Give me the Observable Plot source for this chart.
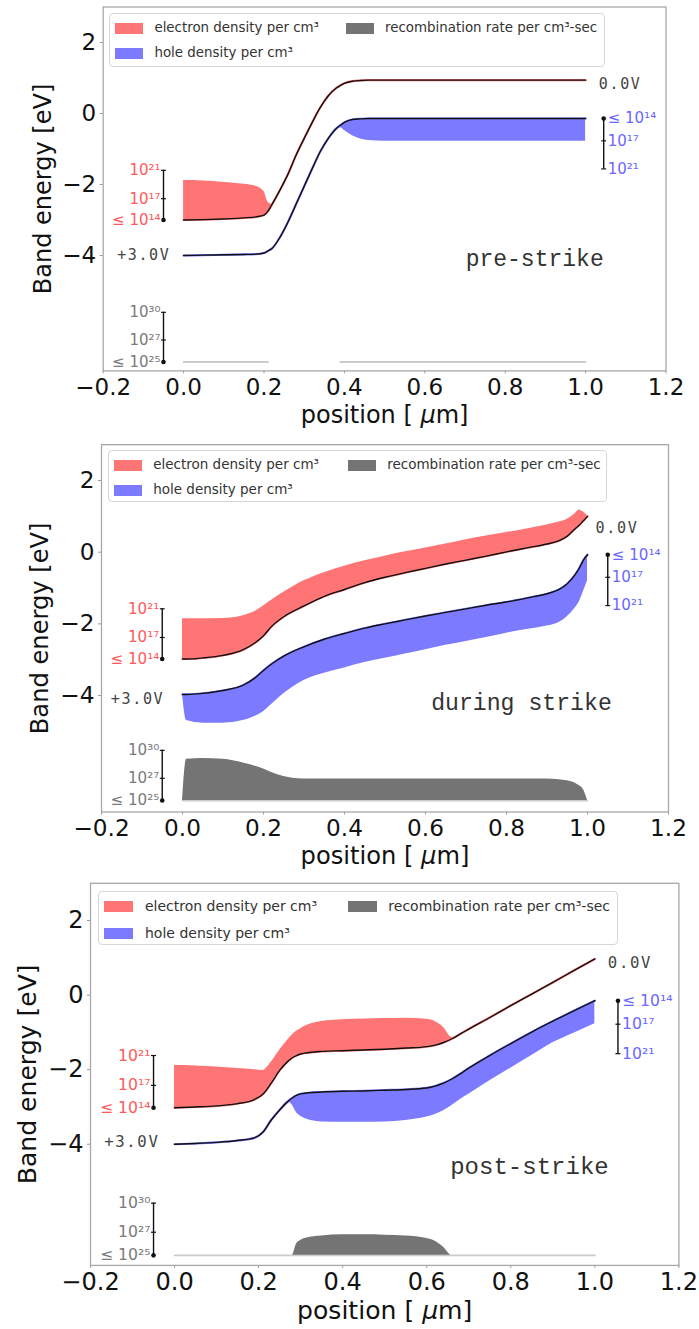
<!DOCTYPE html>
<html>
<head>
<meta charset="utf-8">
<script src="https://cdn.jsdelivr.net/npm/d3@7"></script>
<script src="https://cdn.jsdelivr.net/npm/@observablehq/plot@0.6"></script>
<style>
body{margin:0;background:#fff;}
#root{position:relative;width:699px;height:1329px;overflow:hidden;background:#fff;font-family:"DejaVu Sans",sans-serif;}
.panel{position:absolute;left:0;width:699px;}
.panel svg{position:absolute;left:0;top:0;overflow:visible;}
.legend{position:absolute;border:1px solid #d6d6d6;border-radius:4px;background:rgba(255,255,255,0.85);box-sizing:border-box;}
.legend .item{position:absolute;white-space:nowrap;color:#333;line-height:1;}
.legend .patch{position:absolute;}
svg g[font-family="DejaVu Sans Mono"]{letter-spacing:1.6px;}
</style>
</head>
<body>
<div id="root"></div>
<script>
// ---------- shared tick / label data ----------
const xTicks = [-0.2, 0.0, 0.2, 0.4, 0.6, 0.8, 1.0, 1.2];
const yTicks = [-4, -2, 0, 2];
const legendLabels = ["electron density per cm³", "recombination rate per cm³-sec", "hole density per cm³"];
const elecLabels = ["≤ 10¹⁴", "10¹⁷", "10²¹"];
const elecOffsets = [0, 0.6, 1.4];
const holeLabels = ["≤ 10¹⁴", "10¹⁷", "10²¹"];
const holeOffsets = [0, -0.63, -1.42];
const recLabels = ["≤ 10²⁵", "10²⁷", "10³⁰"];
const recOffsets = [0, 0.62, 1.4];
const panelTitles = ["pre-strike", "during strike", "post-strike"];

// ---------- pre-strike ----------
const preX = [0, 0.05, 0.1, 0.15, 0.18, 0.2, 0.21, 0.22, 0.24, 0.26, 0.28, 0.3, 0.32, 0.34, 0.36, 0.38, 0.39, 0.4, 0.42, 0.44, 0.46, 0.5, 0.6, 0.7, 0.8, 0.9, 1.0];
const preCB = [-3.00, -2.99, -2.97, -2.94, -2.91, -2.86, -2.75, -2.56, -2.15, -1.70, -1.17, -0.70, -0.25, 0.17, 0.50, 0.72, 0.79, 0.85, 0.91, 0.93, 0.94, 0.94, 0.94, 0.94, 0.94, 0.94, 0.94];
const preVB = [-4.00, -3.99, -3.98, -3.97, -3.96, -3.93, -3.87, -3.80, -3.48, -3.05, -2.55, -2.05, -1.55, -1.07, -0.70, -0.42, -0.33, -0.25, -0.17, -0.15, -0.14, -0.14, -0.14, -0.14, -0.14, -0.14, -0.14];
const preElecTop = [-1.89, -1.90, -1.94, -1.99, -2.05, -2.20, -2.50, -2.56, -2.15, -1.70, -1.17, -0.70, -0.25, 0.17, 0.50, 0.72, 0.79, 0.85, 0.91, 0.93, 0.94, 0.94, 0.94, 0.94, 0.94, 0.94, 0.94];
const preHoleBot = [-4.00, -3.99, -3.98, -3.97, -3.96, -3.93, -3.87, -3.80, -3.48, -3.05, -2.55, -2.05, -1.55, -1.07, -0.70, -0.42, -0.40, -0.48, -0.63, -0.72, -0.76, -0.78, -0.78, -0.78, -0.78, -0.78, -0.78];
const preRec = [-7.0, -7.0, -7.0, -7.0, -7.0, -7.0, -7.0, null, null, null, null, null, null, null, null, null, -7.0, -7.0, -7.0, -7.0, -7.0, -7.0, -7.0, -7.0, -7.0, -7.0, -7.0];
const preRecBase = -7.0;

// ---------- during strike ----------
const durX = [0, 0.01, 0.05, 0.1, 0.15, 0.18, 0.2, 0.22, 0.25, 0.3, 0.35, 0.4, 0.45, 0.5, 0.55, 0.6, 0.65, 0.7, 0.75, 0.8, 0.85, 0.9, 0.93, 0.95, 0.97, 0.98, 0.99, 1.0];
const durCB = [-2.98, -2.98, -2.95, -2.88, -2.72, -2.52, -2.33, -2.07, -1.80, -1.50, -1.23, -1.04, -0.85, -0.70, -0.57, -0.45, -0.33, -0.22, -0.11, 0.01, 0.12, 0.23, 0.32, 0.45, 0.66, 0.76, 0.88, 1.00];
const durElecTop = [-1.86, -1.86, -1.86, -1.85, -1.77, -1.65, -1.50, -1.34, -1.12, -0.80, -0.57, -0.39, -0.24, -0.11, 0.01, 0.12, 0.23, 0.35, 0.45, 0.55, 0.65, 0.76, 0.84, 0.92, 1.08, 1.18, 1.12, 1.02];
const durVB = [-3.97, -3.97, -3.94, -3.86, -3.71, -3.50, -3.30, -3.12, -2.90, -2.64, -2.43, -2.27, -2.12, -2.00, -1.89, -1.78, -1.68, -1.58, -1.48, -1.39, -1.28, -1.16, -1.04, -0.88, -0.62, -0.44, -0.22, -0.07];
const durHoleBot = [-3.97, -4.70, -4.77, -4.77, -4.70, -4.58, -4.45, -4.25, -3.95, -3.58, -3.38, -3.23, -3.08, -2.96, -2.84, -2.72, -2.60, -2.49, -2.38, -2.26, -2.16, -2.06, -1.96, -1.80, -1.55, -1.38, -1.10, -0.80];
const durRec = [-6.93, -5.78, -5.76, -5.78, -5.88, -5.97, -6.05, -6.15, -6.26, -6.33, -6.33, -6.33, -6.33, -6.33, -6.33, -6.33, -6.33, -6.33, -6.33, -6.33, -6.33, -6.33, -6.35, -6.38, -6.45, -6.52, -6.62, -6.93];
const durRecBase = -6.93;

// ---------- post-strike ----------
const postX = [0, 0.05, 0.1, 0.15, 0.19, 0.21, 0.23, 0.25, 0.27, 0.28, 0.29, 0.3, 0.32, 0.35, 0.4, 0.45, 0.5, 0.55, 0.6, 0.62, 0.64, 0.66, 0.68, 0.7, 0.75, 0.8, 0.85, 0.9, 0.95, 1.0];
const postCB = [-3.02, -3.00, -2.97, -2.91, -2.80, -2.66, -2.36, -2.02, -1.77, -1.68, -1.62, -1.58, -1.54, -1.51, -1.49, -1.47, -1.45, -1.42, -1.38, -1.34, -1.27, -1.17, -1.04, -0.91, -0.60, -0.28, 0.03, 0.34, 0.66, 0.97];
const postElecTop = [-1.89, -1.90, -1.93, -1.97, -2.00, -2.02, -1.80, -1.48, -1.20, -1.07, -0.97, -0.90, -0.79, -0.71, -0.66, -0.64, -0.63, -0.62, -0.65, -0.71, -0.87, -1.14, -1.04, -0.91, -0.60, -0.28, 0.03, 0.34, 0.66, 0.97];
const postVB = [-4.00, -3.98, -3.95, -3.90, -3.83, -3.68, -3.35, -3.08, -2.85, -2.76, -2.69, -2.65, -2.62, -2.60, -2.58, -2.57, -2.55, -2.53, -2.49, -2.44, -2.36, -2.25, -2.11, -1.96, -1.62, -1.30, -0.99, -0.70, -0.42, -0.15];
const postHoleBot = [-4.00, -3.98, -3.95, -3.90, -3.83, -3.68, -3.35, -3.08, -2.85, -2.95, -3.15, -3.25, -3.35, -3.40, -3.41, -3.41, -3.40, -3.36, -3.27, -3.20, -3.10, -2.96, -2.80, -2.66, -2.30, -1.96, -1.62, -1.28, -1.02, -0.77];
const postRec = [-6.98, -6.98, -6.98, -6.98, -6.98, -6.98, -6.98, -6.98, -6.98, -6.98, -6.68, -6.58, -6.50, -6.46, -6.43, -6.43, -6.44, -6.46, -6.53, -6.60, -6.76, -6.98, -6.98, -6.98, -6.98, -6.98, -6.98, -6.98, -6.98, -6.98];
const postRecBase = -6.98;

// ---------- styling ----------
const RED = "#ff7474", BLUE = "#7c7bff", GRAY = "#747474";
const RED_TXT = "#ff5a5a", BLUE_TXT = "#6a68ff", GRAY_TXT = "#7a7a7a";
const curve = "monotone-x";
const fmtX = d => d.toFixed(1).replace("-", "\u2212");
const fmtY = d => String(d).replace("-", "\u2212");

const panels = [
  {X: preX, CB: preCB, VB: preVB, ET: preElecTop, HB: preHoleBot, REC: preRec, base: preRecBase,
   top: 0, height: 428, ml: 102.7, mr: 33.5, mt: 6.5, ph: 363.9, s: 1.0, ylabDx: -60,
   title: panelTitles[0], titlePos: [1.045, -4.08], plusPos: [-0.033, -4.0], zeroPos: [1.033, 0.82], blueBarX: 1.045,
   legend: {left: 109, top: 13, w: 496, h: 54, col2: 236}},
  {X: durX, CB: durCB, VB: durVB, ET: durElecTop, HB: durHoleBot, REC: durRec, base: durRecBase,
   top: 430, height: 436, ml: 101, mr: 31, mt: 14.2, ph: 367.3, s: 1.007, ylabDx: -61,
   title: panelTitles[1], titlePos: [1.06, -4.19], plusPos: [-0.045, -4.09], zeroPos: [1.02, 0.68], blueBarX: 1.05,
   legend: {left: 107.5, top: 450, w: 499, h: 52, col2: 239.5}},
  {X: postX, CB: postCB, VB: postVB, ET: postElecTop, HB: postHoleBot, REC: postRec, base: postRecBase,
   top: 866, height: 460, ml: 90, mr: 20.6, mt: 16.8, ph: 382.1, s: 1.045, ylabDx: -63,
   title: panelTitles[2], titlePos: [1.033, -4.6], plusPos: [-0.036, -3.94], zeroPos: [1.031, 0.87], blueBarX: 1.055,
   legend: {left: 97.6, top: 891, w: 520, h: 54, col2: 249}}
];

function scaleBar(xPos, ticks, color, side, s) {
  const ys = ticks.map(d => d.y);
  const marks = [];
  marks.push(Plot.ruleX([xPos], {x: d => d, y1: () => d3.min(ys), y2: () => d3.max(ys), stroke: "#111", strokeWidth: 1.4}));
  const capRows = ticks.filter(d => !d.dot);
  marks.push(Plot.link(capRows, {x1: () => xPos - 0.006, x2: () => xPos + 0.006, y1: "y", y2: "y", stroke: "#111", strokeWidth: 1.2}));
  marks.push(Plot.dot(ticks.filter(d => d.dot), {x: () => xPos, y: "y", r: 2.3, fill: "#111"}));
  marks.push(Plot.text(ticks, {x: () => xPos, y: "y", text: "label", fill: color, fontSize: 15 * s,
    textAnchor: side === "left" ? "end" : "start", dx: side === "left" ? -3 : 4, fontFamily: "DejaVu Sans"}));
  return marks;
}

function drawPanel(p) {
  const s = p.s;
  const n = p.X.length;
  const rows = p.X.map((x, i) => ({x, cb: p.CB[i], vb: p.VB[i], et: p.ET[i], hb: p.HB[i], rt: p.REC[i]}));
  const eTicks = elecOffsets.map((o, i) => ({y: p.CB[0] + o, label: elecLabels[i], dot: i === 0}));
  const hTicks = holeOffsets.map((o, i) => ({y: p.VB[n - 1] + o, label: holeLabels[i], dot: i === 0}));
  const rTicks = recOffsets.map((o, i) => ({y: p.base + o, label: recLabels[i], dot: i === 0}));

  const svg = Plot.plot({
    width: 699,
    height: p.height,
    marginLeft: p.ml, marginRight: p.mr, marginTop: p.mt, marginBottom: p.height - p.mt - p.ph,
    style: {fontFamily: "DejaVu Sans", color: "#111", background: "transparent", overflow: "visible"},
    x: {domain: [-0.2, 1.2]},
    y: {domain: [-7.25, 3.0]},
    marks: [
      Plot.axisX({ticks: xTicks, tickFormat: fmtX, tickSize: 3, tickPadding: 4.5, fontSize: 23 * s, label: null, stroke: "#999"}),
      Plot.axisY({ticks: yTicks, tickFormat: fmtY, tickSize: 3, tickPadding: 4, fontSize: 23 * s, label: null, stroke: "#999"}),
      // recombination
      Plot.line(rows, {x: "x", y: d => d.rt == null ? NaN : p.base, stroke: "#cccccc", strokeWidth: 1.8}),
      Plot.areaY(rows, {x: "x", y1: d => d.rt == null ? NaN : p.base, y2: d => d.rt == null ? NaN : d.rt, fill: GRAY, curve}),
      // carrier densities
      Plot.areaY(rows, {x: "x", y1: "cb", y2: "et", fill: RED, curve}),
      Plot.areaY(rows, {x: "x", y1: "vb", y2: "hb", fill: BLUE, curve}),
      // band edges
      Plot.line(rows, {x: "x", y: "cb", stroke: RED, strokeWidth: 2.2, curve}),
      Plot.line(rows, {x: "x", y: "cb", stroke: "#111", strokeWidth: 1.4, curve}),
      Plot.line(rows, {x: "x", y: "vb", stroke: BLUE, strokeWidth: 2.2, curve}),
      Plot.line(rows, {x: "x", y: "vb", stroke: "#111", strokeWidth: 1.4, curve}),
      // scale bars
      ...scaleBar(-0.05, eTicks, RED_TXT, "left", s),
      ...scaleBar(p.blueBarX, hTicks, BLUE_TXT, "right", s),
      ...scaleBar(-0.05, rTicks, GRAY_TXT, "left", s),
      // annotations
      Plot.text([p.plusPos], {x: d => d[0], y: d => d[1], text: () => "+3.0V", textAnchor: "end", fontFamily: "DejaVu Sans Mono", fontSize: 15 * s, fill: "#444"}),
      Plot.text([p.zeroPos], {x: d => d[0], y: d => d[1], text: () => "0.0V", textAnchor: "start", fontFamily: "DejaVu Sans Mono", fontSize: 15 * s, fill: "#444"}),
      Plot.text([p.titlePos], {x: d => d[0], y: d => d[1], text: () => p.title, textAnchor: "end", fontFamily: "Liberation Mono", fontSize: 23 * s, fill: "#333"}),
      // axis labels
      Plot.text(["Band energy [eV]"], {text: d => d, frameAnchor: "left", textAnchor: "middle", rotate: -90, dx: p.ylabDx, fontSize: 24 * s, fill: "#111", lineAnchor: "middle"}),
      Plot.text(["position [ μm]"], {text: d => d, frameAnchor: "bottom", textAnchor: "middle", dy: 44 * s, fontSize: 24 * s, fill: "#111", lineAnchor: "middle"}),
      Plot.frame({stroke: "#a8a8a8", strokeWidth: 1.3})
    ]
  });

  // italic mu as in the mathtext label
  d3.select(svg).selectAll("text").each(function () {
    if (this.textContent === "position [ μm]") {
      const t = d3.select(this);
      t.text(null);
      t.append("tspan").text("position [ ");
      t.append("tspan").attr("font-style", "italic").text("μ");
      t.append("tspan").text("m]");
    }
  });

  const div = document.createElement("div");
  div.className = "panel";
  div.style.top = p.top + "px";
  div.style.height = p.height + "px";
  div.appendChild(svg);

  // legend
  const L = p.legend;
  const lg = document.createElement("div");
  lg.className = "legend";
  Object.assign(lg.style, {left: L.left + "px", top: (L.top - p.top) + "px", width: L.w + "px", height: L.h + "px"});
  const items = [
    {label: legendLabels[0], color: RED, px: 5.4 * s, row: 0},
    {label: legendLabels[1], color: GRAY, px: L.col2, row: 0},
    {label: legendLabels[2], color: BLUE, px: 5.4 * s, row: 1}
  ];
  const rowY = [14 * s, 39.5 * s];
  items.forEach(it => {
    const pw = 28 * s, ph = 11 * s;
    const patch = document.createElement("div");
    patch.className = "patch";
    Object.assign(patch.style, {left: it.px + "px", top: (rowY[it.row] - ph / 2) + "px", width: pw + "px", height: ph + "px", background: it.color});
    lg.appendChild(patch);
    const tx = document.createElement("div");
    tx.className = "item";
    tx.textContent = it.label;
    const fs = 13.4 * s;
    Object.assign(tx.style, {left: (it.px + 39 * s) + "px", top: (rowY[it.row] - fs * 0.55) + "px", fontSize: fs + "px"});
    lg.appendChild(tx);
  });
  div.appendChild(lg);
  document.getElementById("root").appendChild(div);
}

panels.forEach(drawPanel);
</script>
</body>
</html>
